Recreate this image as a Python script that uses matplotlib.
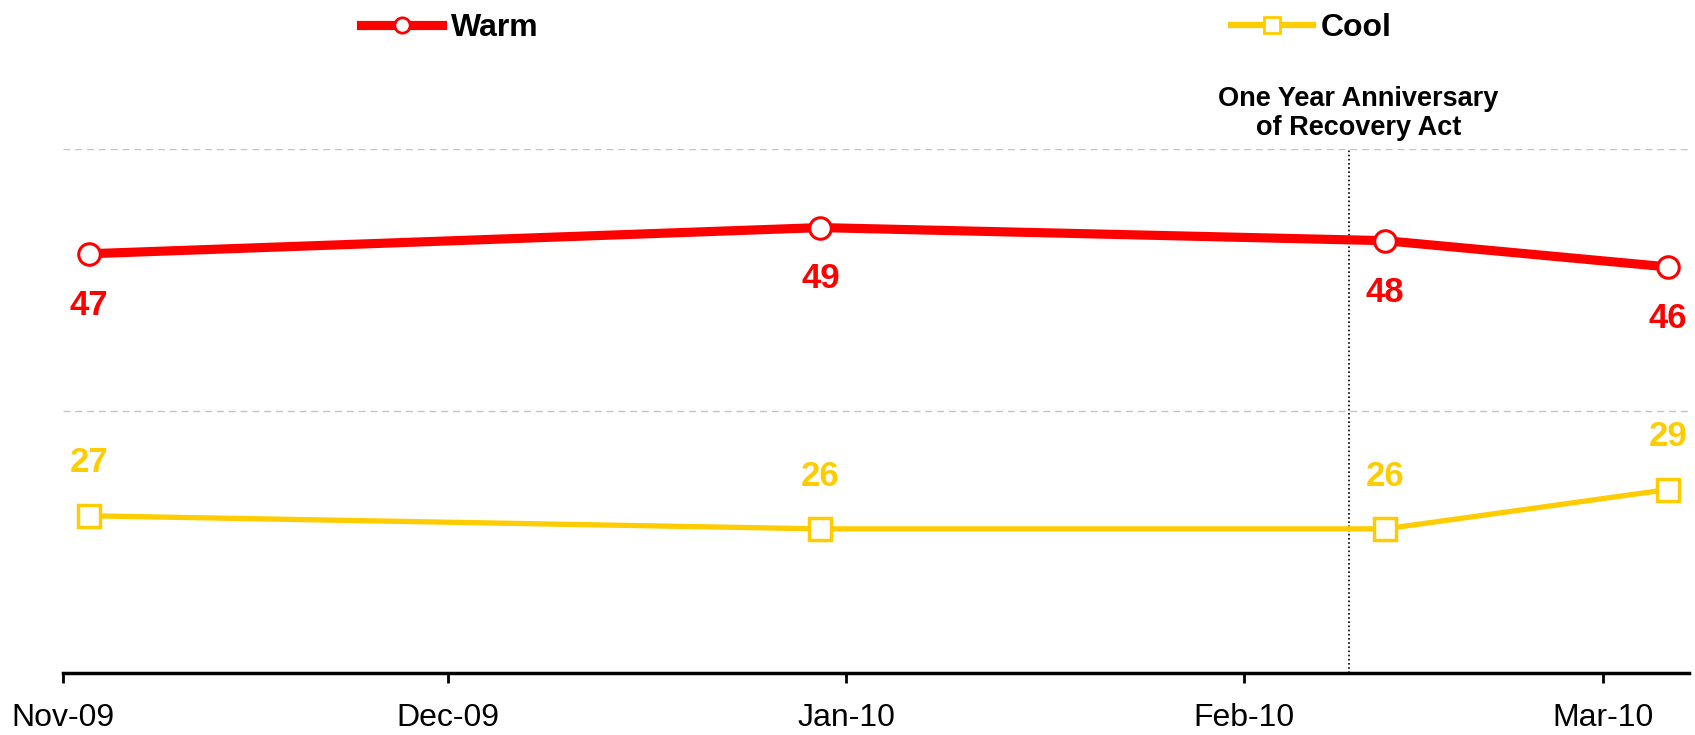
import pandas as pd
import matplotlib
matplotlib.use('Agg')
import matplotlib.pyplot as plt
import matplotlib.dates as mdates
from matplotlib.lines import Line2D

plt.rcParams['font.family'] = ['Liberation Sans', 'DejaVu Sans']

# данные опроса
dates = pd.to_datetime(['2009-11-03', '2009-12-30', '2010-02-12', '2010-03-06'])
warm = [47, 49, 48, 46]
cool = [27, 26, 26, 29]
event_date = pd.Timestamp('2010-02-09 05:00')
event_text = 'One Year Anniversary\nof Recovery Act'

red = '#FF0000'
gold = '#FFCC00'

fig = plt.figure(figsize=(16.95, 7.35), dpi=100)
ax = fig.add_axes([0.0372, 0.0844, 0.9593, 0.7129])

ax.plot(dates, warm, color=red, lw=6.6, marker='o', ms=15.5,
        mfc='white', mec=red, mew=2.2, zorder=3)
ax.plot(dates, cool, color=gold, lw=3.8, marker='s', ms=16,
        mfc='white', mec=gold, mew=2.5, zorder=3)

for d, v in zip(dates, warm):
    ax.annotate(str(v), (d, v), xytext=(0, -37), textcoords='offset points',
                ha='center', va='center', fontsize=25, fontweight='bold', color=red)
for d, v in zip(dates, cool):
    ax.annotate(str(v), (d, v), xytext=(0, 38), textcoords='offset points',
                ha='center', va='center', fontsize=25, fontweight='bold', color=gold)

ax.axvline(event_date, color='black', lw=1.2, ls=(0, (1, 1.5)), zorder=2)
ax.text(event_date + pd.Timedelta(days=0.7), 55.6, event_text, ha='center', va='bottom',
        fontsize=19.5, fontweight='bold', linespacing=1.15)

ax.set_ylim(15, 55)
ax.set_xlim(pd.Timestamp('2009-11-01'), pd.Timestamp('2010-03-07 16:00'))
ax.set_yticks([35, 55])
ax.yaxis.grid(True, color='#C4C4C4', ls=(0, (5, 3.5)), lw=1)
ax.tick_params(axis='y', left=False, labelleft=False)
ax.xaxis.set_major_locator(mdates.MonthLocator())
ax.xaxis.set_major_formatter(mdates.DateFormatter('%b-%y'))
ax.tick_params(axis='x', direction='out', length=7.5, width=2, labelsize=23, pad=14)
for s in ['top', 'right', 'left']:
    ax.spines[s].set_visible(False)
ax.spines['bottom'].set_linewidth(2.5)
ax.set_axisbelow(True)

h_warm = Line2D([], [], color=red, lw=6.6, marker='o', ms=11, mfc='white', mec=red, mew=2)
h_cool = Line2D([], [], color=gold, lw=4.5, marker='s', ms=12, mfc='white', mec=gold, mew=2)
fig.legend([h_warm], ['Warm'], loc='center left', bbox_to_anchor=(0.213, 0.962),
           frameon=False, handlelength=2.55, handletextpad=0.25,
           prop={'size': 23, 'weight': 'bold'}, borderaxespad=0, borderpad=0)
fig.legend([h_cool], ['Cool'], loc='center left', bbox_to_anchor=(0.7265, 0.962),
           frameon=False, handlelength=2.55, handletextpad=0.25,
           prop={'size': 23, 'weight': 'bold'}, borderaxespad=0, borderpad=0)

fig.savefig('out.png', dpi=100)
